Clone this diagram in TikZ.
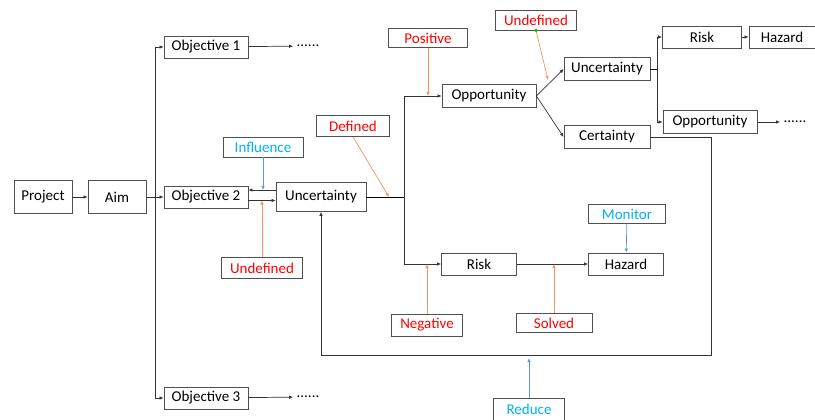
\documentclass[tikz,border=0pt]{standalone}
\usepackage{fontspec}
\setmainfont{Carlito}
\usetikzlibrary{arrows.meta}
\definecolor{boxgray}{RGB}{80,80,80}
\definecolor{txtred}{RGB}{255,0,0}
\definecolor{txtblue}{RGB}{0,176,240}
\definecolor{arrorange}{RGB}{242,150,95}
\definecolor{arrblue}{RGB}{91,155,213}
\begin{document}
\begin{tikzpicture}[x=1pt,y=-1pt,
    box/.style={draw=boxgray, line width=0.8pt, inner sep=0pt, minimum height=22pt,
        font=\fontsize{15}{17}\selectfont},
    tag/.style={box, minimum height=20pt},
    arr/.style={-{Latex[length=4pt,width=3.5pt]}, line width=0.7pt, black!80},
    oarr/.style={arr, arrorange},
    barr/.style={arr, arrblue}]
    \useasboundingbox (0,0) rectangle (815,420);

    % Main chain
    \node[box, minimum width=58pt, minimum height=33pt] (proj) at (43,197) {Project};
    \node[box, minimum width=58pt, minimum height=33pt] (aim) at (117,197) {Aim};
    \node[box, minimum width=84pt] (obj1) at (206,47) {Objective 1};
    \node[box, minimum width=84pt] (obj2) at (206,197) {Objective 2};
    \node[box, minimum width=84pt] (obj3) at (206,398) {Objective 3};
    \node[box, minimum width=90pt, minimum height=29pt] (unc) at (321,197) {Uncertainty};
    \node[font=\fontsize{15}{17}\selectfont] (dots1) at (308,46) {......};
    \node[font=\fontsize{15}{17}\selectfont] (dots3) at (308,397) {......};

    % Second level
    \node[box, minimum width=94pt, minimum height=23pt] (opp) at (489,96) {Opportunity};
    \node[box, minimum width=75pt] (risk) at (479,264) {Risk};
    \node[box, minimum width=75pt] (haz) at (626,264) {Hazard};
    \node[box, minimum width=86pt, minimum height=23pt] (unc2) at (607,69) {Uncertainty};
    \node[box, minimum width=86pt, minimum height=23pt] (cert) at (607,137) {Certainty};
    \node[box, minimum width=79pt] (risk2) at (702,37) {Risk};
    \node[box, minimum width=66pt] (haz2) at (782,37) {Hazard};
    \node[box, minimum width=94pt, minimum height=23pt] (opp2) at (710,122) {Opportunity};
    \node[font=\fontsize{15}{17}\selectfont] (dots2) at (795,122) {......};

    % Labels
    \node[tag, minimum width=80pt, text=txtblue] (infl) at (263,147) {Influence};
    \node[tag, minimum width=81pt, minimum height=21pt, text=txtred] (undef) at (262,268) {Undefined};
    \node[tag, minimum width=73pt, minimum height=21pt, text=txtred] (def) at (353,126) {Defined};
    \node[tag, minimum width=79pt, minimum height=19pt, text=txtred] (pos) at (428,38) {Positive};
    \node[tag, minimum width=81pt, text=txtred] (undef2) at (536,20) {Undefined};
    \node[tag, minimum width=77pt, minimum height=19pt, text=txtblue] (mon) at (627,214) {Monitor};
    \node[tag, minimum width=71pt, minimum height=22pt, text=txtred] (neg) at (427,325) {Negative};
    \node[tag, minimum width=76pt, minimum height=19pt, text=txtred] (solv) at (554,323) {Solved};
    \node[tag, minimum width=71pt, minimum height=22pt, text=txtblue] (red) at (529,409) {Reduce};

    % Define coordinates
    \coordinate (split) at (155,197);
    \coordinate (fork) at (404,197);
    \coordinate (fork2) at (657,69);
    \coordinate (loopc) at (711,355);
    \coordinate (defhit) at (389,197);
    \coordinate (udhit) at (548,80);
    \path ([yshift=7pt]obj2.east) coordinate (up2) ([yshift=-3.5pt]obj2.east) coordinate (low2);

    % Connectors
    \draw[arr] (proj) -- (aim);
    \draw[arr] (aim) -- (obj2);
    \draw[arr] (split) |- (obj1);
    \draw[arr] (split) |- (obj3);
    \draw[arr] (obj1) -- (dots1);
    \draw[arr] (obj3) -- (dots3);
    \draw[arr] (unc.west |- up2) -- (up2);
    \draw[arr] (low2) -- (unc.west |- low2);
    \draw (unc) -- (fork);
    \draw[arr] (fork) |- (opp);
    \draw[arr] (fork) |- (risk);
    \draw[arr] (opp.east) -- (unc2.west);
    \draw[arr] (opp.east) -- (cert.west);
    \draw (unc2) -- (fork2);
    \draw[arr] (fork2) |- (risk2);
    \draw[arr] (fork2) |- (opp2);
    \draw[arr] (risk2) -- (haz2);
    \draw[arr] (opp2) -- (dots2);
    \draw[arr] (risk) -- (haz);
    \draw[arr] (cert.east) -| (loopc) -| (unc.south);

    % Label arrows
    \draw[barr] (infl) -- (infl |- up2);
    \draw[oarr] (undef) -- (undef |- low2);
    \draw[oarr] (def.south) -- (defhit);
    \draw[oarr] (pos) -- (pos |- opp);
    \draw[oarr] (undef2.south) -- (udhit);
    \fill[green!70!black] (undef2.south) circle (1.8pt);
    \draw[barr] (mon) -- (haz);
    \draw[oarr] (neg) -- (neg |- risk);
    \draw[oarr] (solv) -- (solv |- risk);
    \draw[barr, shorten >=3pt] (red) -- (red |- loopc);
\end{tikzpicture}
\end{document}
